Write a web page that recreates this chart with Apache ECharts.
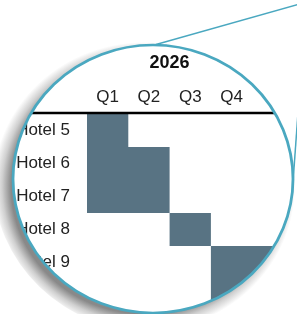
<!DOCTYPE html>
<html>
<head>
<meta charset="utf-8">
<script src="https://cdn.jsdelivr.net/npm/echarts@6/dist/echarts.min.js"></script>
<style>
  html, body { margin: 0; padding: 0; background: #fff; }
  #chart { width: 297px; height: 314px; }
</style>
</head>
<body>
<div id="chart"></div>
<script>
const hotels = ['Hotel 5', 'Hotel 6', 'Hotel 7', 'Hotel 8', 'Hotel 9', 'Hotel 10'];
const startQ = [0, 0, 0, 2, 3, 3];
const endQ = [1, 2, 2, 3, 5, 5];
const quarterLabels = ['Q1', 'Q2', 'Q3', 'Q4', ''];
const yearLabels = ['2026'];

const gridLeft = 87, gridTop = 114, colW = 41.3, rowH = 33;
const nCols = quarterLabels.length;
const cx = 153, cy = 179, R = 140, sy = 0.957;
const ringColor = '#4aa8c0';
const font = 'Liberation Sans';

const chart = echarts.init(document.getElementById('chart'));
chart.setOption({
  animation: false,
  backgroundColor: '#fff',
  grid: { left: gridLeft, top: gridTop, width: colW * nCols, height: rowH * hotels.length },
  xAxis: [
    { type: 'value', min: 0, max: nCols, show: false },
    {
      type: 'category', data: quarterLabels, position: 'top',
      axisLine: { show: false }, axisTick: { show: false }, splitLine: { show: false },
      axisLabel: { fontSize: 17, fontFamily: font, color: '#222', margin: 8, interval: 0 }
    }
  ],
  yAxis: {
    type: 'category', data: hotels, inverse: true,
    axisLine: { show: false }, axisTick: { show: false }, splitLine: { show: false },
    axisLabel: { fontSize: 17, fontFamily: font, color: '#222', margin: 17 }
  },
  series: [
    {
      type: 'bar', stack: 'g', xAxisIndex: 0, data: startQ, barCategoryGap: 0,
      itemStyle: { color: 'transparent' }, silent: true
    },
    {
      type: 'bar', stack: 'g', xAxisIndex: 0, barCategoryGap: 0,
      data: endQ.map((e, i) => e - startQ[i]),
      itemStyle: { color: '#587383' }
    }
  ],
  graphic: [
    {
      type: 'text', x: gridLeft + colW * 2, y: 63, z: 10,
      style: { text: yearLabels[0], font: 'bold 18px "Liberation Sans"', fill: '#111',
               textAlign: 'center', textVerticalAlign: 'middle' }
    },
    {
      type: 'line', z: 10,
      shape: { x1: 0, y1: gridTop - 1, x2: 297, y2: gridTop - 1 },
      style: { stroke: '#000', lineWidth: 2.5 }
    },
    {
      type: 'ring', z: 100, originX: cx, originY: cy, scaleY: sy,
      shape: { cx: cx, cy: cy, r0: R, r: 320 },
      style: { fill: '#fff' }
    },
    {
      type: 'ring', z: 101, originX: cx, originY: cy, scaleY: sy,
      shape: { cx: cx, cy: cy, r0: R, r: R + 20 },
      style: {
        fill: {
          type: 'radial', x: cx - 9, y: cy + 8, r: 151, global: true,
          colorStops: [
            { offset: 0, color: 'rgba(40,40,40,0.55)' },
            { offset: 0.88, color: 'rgba(40,40,40,0.55)' },
            { offset: 0.94, color: 'rgba(40,40,40,0.22)' },
            { offset: 1, color: 'rgba(40,40,40,0)' }
          ]
        }
      }
    },
    {
      type: 'circle', z: 102, originX: cx, originY: cy, scaleY: sy,
      shape: { cx: cx, cy: cy, r: R },
      style: { fill: 'none', stroke: ringColor, lineWidth: 2.8 }
    },
    {
      type: 'line', z: 103,
      shape: { x1: 156, y1: 44.5, x2: 300, y2: 4 },
      style: { stroke: ringColor, lineWidth: 1.5 }
    },
    {
      type: 'line', z: 103,
      shape: { x1: 293.3, y1: 178, x2: 299.5, y2: 92 },
      style: { stroke: ringColor, lineWidth: 1.5 }
    }
  ]
});
</script>
</body>
</html>
